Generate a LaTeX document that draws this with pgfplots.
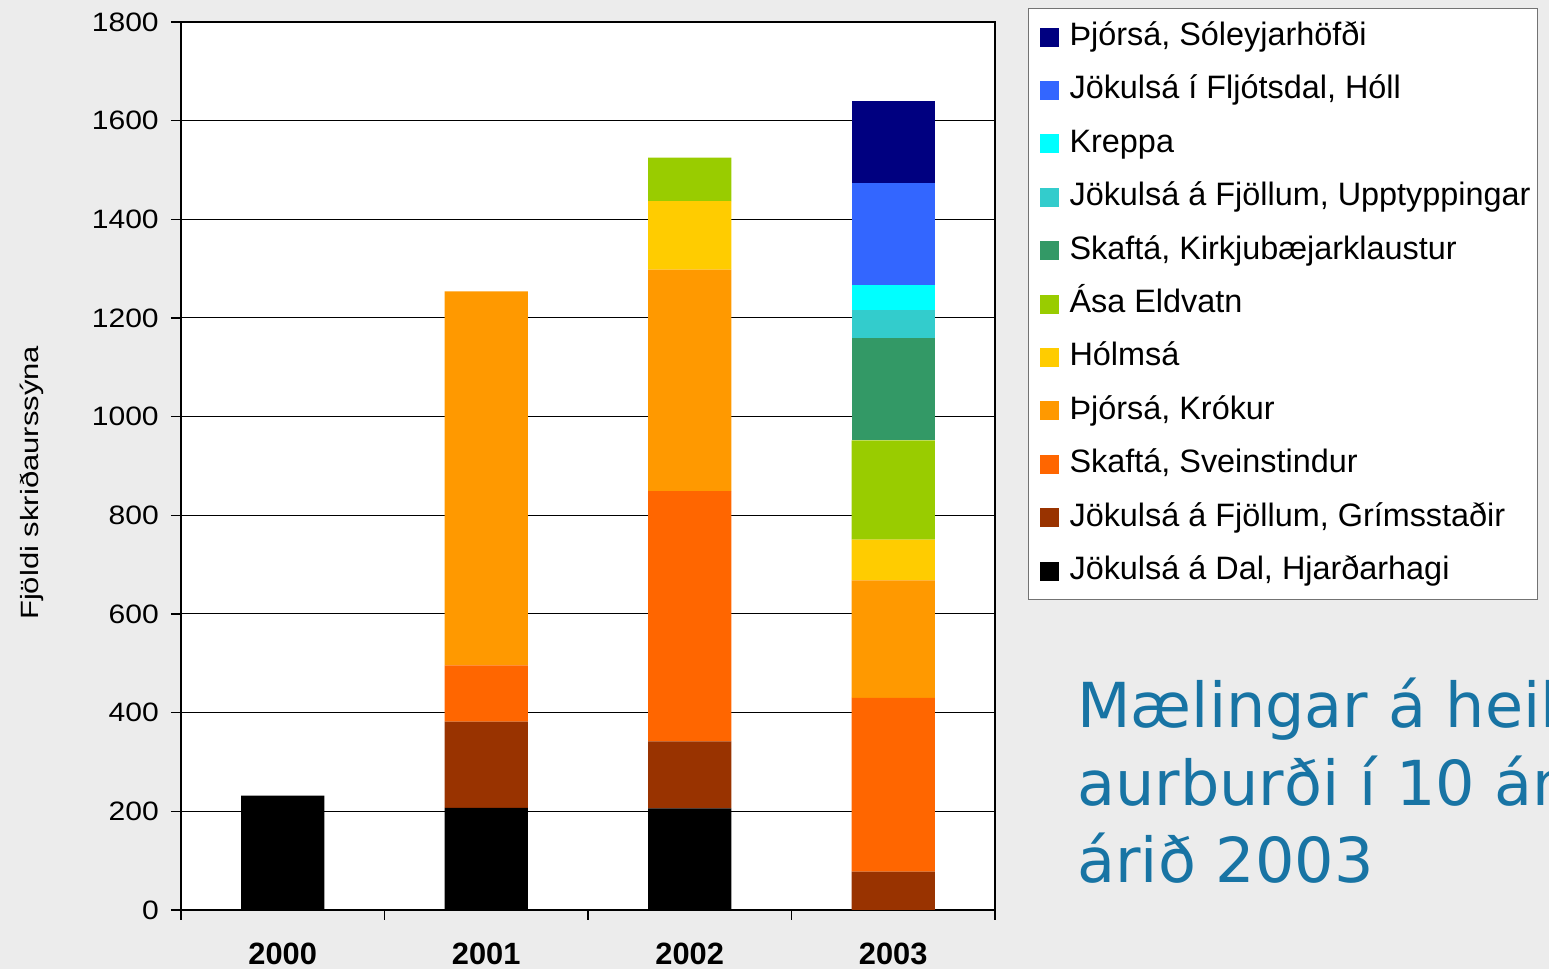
\documentclass[border=0pt]{standalone}
\usepackage{pgfplots}
\pgfplotsset{compat=1.18}
\usepackage{fontspec}
\setmainfont{Liberation Sans}
\newfontfamily\titlefont{DejaVu Sans}

\definecolor{bggray}{RGB}{236,236,236}
\definecolor{titleblue}{RGB}{24,116,164}
\definecolor{cSol}{RGB}{0,0,128}
\definecolor{cHoll}{RGB}{51,102,255}
\definecolor{cKre}{RGB}{0,255,255}
\definecolor{cUpp}{RGB}{51,204,204}
\definecolor{cKir}{RGB}{51,153,102}
\definecolor{cAsa}{RGB}{153,204,0}
\definecolor{cHol}{RGB}{255,204,0}
\definecolor{cKro}{RGB}{255,153,0}
\definecolor{cSve}{RGB}{255,102,0}
\definecolor{cGri}{RGB}{153,51,0}
\definecolor{cHja}{RGB}{0,0,0}

\begin{document}
\begin{tikzpicture}
\fill[bggray] (0,0) rectangle (774.5pt,484.5pt);
\begin{axis}[
    at={(90.5pt,29.5pt)}, anchor=south west,
    scale only axis, width=407pt, height=444pt,
    ybar stacked, bar width=0.41,
    xmin=-0.5, xmax=3.5, ymin=0, ymax=1800,
    axis background/.style={fill=white},
    axis line style={black, line width=0.9pt},
    ytick={0,200,...,1800},
    ymajorgrids, major grid style={black, line width=0.5pt},
    tick pos=left, tick align=outside,
    major tick length=5pt,
    tick style={black, line width=0.6pt},
    xtick={-0.5,0.5,1.5,2.5,3.5}, xticklabels={},
    extra x ticks={0,1,2,3},
    extra x tick labels={2000,2001,2002,2003},
    extra x tick style={major tick length=0pt,
        xticklabel style={font=\bfseries\fontsize{15.4}{18}\selectfont, anchor=north, yshift=-13pt}},
    /pgf/number format/assume math mode=true,
    /pgf/number format/1000 sep={},
    yticklabel={\scalebox{1.13}[1]{\pgfmathprintnumber{\tick}}},
    yticklabel style={font=\fontsize{13.3}{16}\selectfont, xshift=-2.6pt},
    ylabel={\scalebox{1.24}[1]{Fjöldi skriðaurssýna}},
    every axis y label/.style={at={(axis description cs:-0.183,0.481)}, rotate=90, anchor=center, font=\fontsize{12.5}{14}\selectfont},
    reverse legend,
    legend cell align=left,
    legend image code/.code={\path (0pt,0pt); \fill[#1] (3pt,-4.75pt) rectangle (12.5pt,4.75pt);},
    legend style={at={(1.0405,1.0158)}, anchor=north west,
        draw=black!55, line width=0.6pt, fill=white,
        font=\fontsize{16.2}{19}\selectfont,
        inner xsep=2.5pt, inner ysep=5.5pt,
        row sep=9.2pt,
        /tikz/every odd column/.append style={column sep=4.5pt},
        nodes={inner sep=1pt, text height=12pt, text depth=3.5pt}},
]
\addplot[fill=cHja, draw=none] coordinates {(0,232) (1,207) (2,206) (3,0)};
\addplot[fill=cGri, draw=none] coordinates {(0,0) (1,175) (2,136) (3,78)};
\addplot[fill=cSve, draw=none] coordinates {(0,0) (1,114) (2,507) (3,352)};
\addplot[fill=cKro, draw=none] coordinates {(0,0) (1,758) (2,449) (3,238)};
\addplot[fill=cHol, draw=none] coordinates {(0,0) (1,0) (2,139) (3,83)};
\addplot[fill=cAsa, draw=none] coordinates {(0,0) (1,0) (2,88) (3,201)};
\addplot[fill=cKir, draw=none] coordinates {(0,0) (1,0) (2,0) (3,207)};
\addplot[fill=cUpp, draw=none] coordinates {(0,0) (1,0) (2,0) (3,57)};
\addplot[fill=cKre, draw=none] coordinates {(0,0) (1,0) (2,0) (3,51)};
\addplot[fill=cHoll, draw=none] coordinates {(0,0) (1,0) (2,0) (3,206)};
\addplot[fill=cSol, draw=none] coordinates {(0,0) (1,0) (2,0) (3,166)};
\legend{{Jökulsá á Dal, Hjarðarhagi}, {Jökulsá á Fjöllum, Grímsstaðir}, {Skaftá, Sveinstindur}, {Þjórsá, Krókur}, Hólmsá, Ása Eldvatn, {Skaftá, Kirkjubæjarklaustur}, {Jökulsá á Fjöllum, Upptyppingar}, Kreppa, {Jökulsá í Fljótsdal, Hóll}, {Þjórsá, Sóleyjarhöfði}}
\end{axis}
\begin{scope}[every node/.style={anchor=base west, inner sep=0pt, text=titleblue, font=\titlefont\fontsize{31}{38}\selectfont}]
\node at (538.5pt,120.5pt) {Mælingar á heildar};
\node at (538.5pt,81.5pt) {aurburði í 10 ám};
\node at (538.5pt,43pt) {árið 2003};
\end{scope}
\pgfresetboundingbox
\useasboundingbox (0,0) rectangle (774.5pt,484.5pt);
\end{tikzpicture}
\end{document}
